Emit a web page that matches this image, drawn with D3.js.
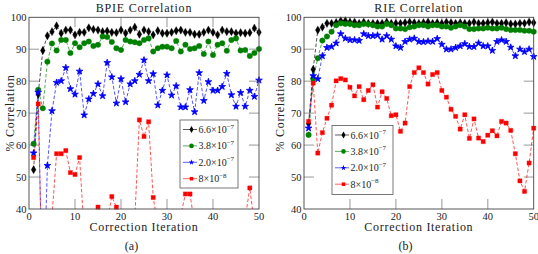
<!DOCTYPE html>
<html>
<head>
<meta charset="utf-8">
<script src="https://cdn.jsdelivr.net/npm/d3@7"></script>
<style>
body { margin: 0; background: #fff; }
svg text { font-family: "Liberation Serif", "DejaVu Serif", serif; fill: #222; }
</style>
</head>
<body>
<svg id="chart" width="538" height="254" font-family="Liberation Serif, DejaVu Serif, serif"></svg>
<script>
// iteration index shared by every series
var iterations = d3.range(1, 51);
var xTicks = [0, 10, 20, 30, 40, 50];
var yTicks = [40, 50, 60, 70, 80, 90, 100];

var legendBase = ["6.6\u00d710", "3.8\u00d710", "2.0\u00d710", "8\u00d710"];
var legendExp = ["\u22127", "\u22127", "\u22127", "\u22128"];

// BPIE panel (values under 40 are off the axis, guessed from the slopes)
var bpieBlack = [52.3, 76, 89.6, 94.2, 95.5, 97.3, 95, 96, 96, 94.5,
  95.3, 95.3, 96.7, 96.2, 96, 95.5, 95.7, 95.3, 95.2, 96,
  95, 96, 96.9, 94.7, 96, 95.5, 94.5, 95.8, 95, 95,
  95.3, 95.8, 96, 95.3, 95.3, 94.7, 94.7, 95.3, 96, 95.3,
  94.5, 96, 95.5, 95.5, 95, 95.2, 95, 95.2, 96.6, 95.3];
var bpieGreen = [60.4, 77.3, 71.5, 86.1, 91.8, 89.6, 92.9, 92.9, 88.8, 91.9,
  90.6, 91.9, 92.4, 91, 91.4, 94, 93.8, 92.3, 90.3, 89.8,
  92.9, 92.4, 92.2, 91.9, 92.9, 93.4, 89.3, 90.3, 90.8, 90.8,
  90.3, 92.6, 89.3, 91.4, 90.1, 90.3, 91, 88.5, 92.4, 88.2,
  91.4, 91.9, 89.5, 92.9, 93.4, 89.6, 89.8, 87.9, 88.8, 90.1];
var bpieBlue = [57.5, 76.5, 5, 53.6, 70.7, 79.6, 80.1, 84.2, 77.6, 75.9,
  83.1, 69.4, 74.4, 76.1, 79.1, 75.4, 85.8, 81.3, 73.1, 80.7,
  73.5, 79.1, 80.1, 82.1, 86.6, 80.1, 82.3, 72.5, 77.1, 81.9,
  75.6, 78.5, 71.9, 71.9, 77.3, 70.4, 82.6, 73.9, 79.8, 77.1,
  77.1, 78.3, 82.4, 75.7, 72.1, 76.4, 72.1, 77.1, 75.2, 80.3];
var bpieRed = [56.1, 72.9, 8, 20, 38, 57.3, 57.3, 58.3, 51.4, 50.8,
  56.1, 32, 25, 33, 40.6, 34, 36, 43.9, 40.6, 35,
  30, 32, 37, 67.9, 62.7, 67.3, 43.6, 35, 30, 28,
  30, 33, 38, 44.7, 44.7, 35, 30, 28, 30, 32,
  30, 28, 30, 32, 30, 28, 37, 46.6, 35, 30];

// RIE panel
var rieBlack = [66.7, 83.7, 96, 96.9, 98.1, 98.1, 98.4, 98.9, 98.9, 98.5,
  98.5, 98.1, 98.5, 98.1, 98.1, 98.1, 98.1, 98.5, 98.1, 98.1,
  98.1, 98.3, 98.5, 98.3, 98.1, 98.3, 98.5, 98.1, 98.3, 98.1,
  98.5, 98.3, 98.1, 98.3, 98.1, 98.1, 98.5, 98.1, 98.1, 98.3,
  98.5, 98.1, 98.1, 98.3, 97.9, 97.9, 98.1, 98.1, 98.5, 98.3];
var rieGreen = [63.2, 80.8, 87.2, 92.7, 94, 95.5, 97.5, 98.1, 97.9, 97.9,
  97.5, 97.5, 97.9, 97.8, 97.5, 97.1, 97.1, 97.9, 97.5, 96.5,
  96.5, 96.3, 96.9, 97.1, 97.5, 97.5, 97.1, 97.5, 97.5, 97.1,
  97.1, 96.7, 97.1, 97.5, 97.1, 96.3, 96.3, 96.5, 96.5, 96.7,
  96.5, 96.5, 96.7, 96.3, 96, 96, 96, 95.8, 95.8, 95.5];
var rieBlue = [65.3, 81.7, 80.7, 87.9, 90.5, 90.8, 91.9, 94.8, 93.4, 92.9,
  92.9, 92.7, 94.8, 94.2, 94.2, 94.4, 93.1, 94.2, 93.1, 91,
  90.5, 92.4, 93.1, 93.4, 92.4, 92.3, 92.5, 92.4, 93.3, 91.5,
  90, 90, 90.5, 91, 91.7, 90.8, 90.8, 91.9, 91, 91,
  89.6, 92.4, 92.9, 92.4, 90.6, 87.9, 90, 89.2, 90, 87.7];
var rieRed = [67.4, 79.4, 57.5, 63.9, 68.4, 72.5, 80.1, 80.8, 80.4, 78.1,
  75.4, 78.3, 74.2, 77.1, 78.9, 71.9, 76.7, 74.6, 69.2, 69.5,
  64.3, 66.9, 78.3, 82.7, 84.2, 82.7, 79.1, 82.1, 82.7, 77.1,
  75, 71.2, 69, 65, 69.5, 62.1, 68.2, 62.2, 61.1, 63.1,
  64.5, 62.9, 67.4, 66.9, 64.6, 57.3, 48.8, 45.5, 54.4, 65.3];

var styles = [
  {color: "#000000", symbol: d3.symbolDiamond, size: 20},
  {color: "#008000", symbol: d3.symbolCircle, size: 24},
  {color: "#0000ff", symbol: d3.symbolStar, size: 14},
  {color: "#ff0000", symbol: d3.symbolSquare, size: 18}
];

var svg = d3.select("#chart");
svg.append("rect").attr("width", 538).attr("height", 254).attr("fill", "#fff");

function drawPanel(id, opts) {
  var x = d3.scaleLinear().domain([0, 50]).range([opts.left, opts.right]);
  var y = d3.scaleLinear().domain([40, 100]).range([209, 17.3]);
  var g = svg.append("g");

  g.append("clipPath").attr("id", "clip" + id)
    .append("rect")
    .attr("x", opts.left).attr("y", 17.3)
    .attr("width", opts.right - opts.left).attr("height", 209 - 17.3);

  // inward ticks on all four sides
  var tk = 10;
  var ticks = g.append("g").attr("stroke", "#b0b0b0").attr("stroke-width", 1.3);
  xTicks.slice(1, -1).forEach(function(t) {
    ticks.append("line").attr("x1", x(t)).attr("x2", x(t)).attr("y1", 209).attr("y2", 209 - tk);
    ticks.append("line").attr("x1", x(t)).attr("x2", x(t)).attr("y1", 17.3).attr("y2", 17.3 + tk);
  });
  yTicks.slice(1, -1).forEach(function(t) {
    ticks.append("line").attr("x1", opts.left).attr("x2", opts.left + tk).attr("y1", y(t)).attr("y2", y(t));
    ticks.append("line").attr("x1", opts.right).attr("x2", opts.right - tk).attr("y1", y(t)).attr("y2", y(t));
  });

  // series
  var line = d3.line()
    .x(function(d, i) { return x(iterations[i]); })
    .y(function(d) { return y(d); });

  opts.series.forEach(function(vals, si) {
    var st = styles[si];
    g.append("path")
      .attr("clip-path", "url(#clip" + id + ")")
      .attr("d", line(vals))
      .attr("fill", "none")
      .attr("stroke", st.color)
      .attr("stroke-opacity", 0.75)
      .attr("stroke-width", 0.9)
      .attr("stroke-dasharray", "3.5,2");
  });
  opts.series.forEach(function(vals, si) {
    var st = styles[si];
    var sym = d3.symbol().type(st.symbol).size(st.size);
    g.append("g").selectAll("path")
      .data(vals.map(function(v, i) { return {x: iterations[i], v: v}; })
        .filter(function(d) { return d.v >= 40; }))
      .enter().append("path")
      .attr("d", sym)
      .attr("fill", st.color)
      .attr("stroke", st.color)
      .attr("stroke-width", si == 2 ? 0.8 : 0.3)
      .attr("transform", function(d) { return "translate(" + x(d.x) + "," + y(d.v) + ")"; });
  });

  // frame
  g.append("rect")
    .attr("x", opts.left).attr("y", 17.3)
    .attr("width", opts.right - opts.left).attr("height", 209 - 17.3)
    .attr("fill", "none").attr("stroke", "#444").attr("stroke-width", 0.9);

  // tick labels
  g.selectAll(".xl").data(xTicks).enter().append("text")
    .attr("x", function(d) { return x(d); })
    .attr("y", 219.5)
    .attr("text-anchor", "middle")
    .attr("font-size", 10.5)
    .text(function(d) { return d; });
  g.selectAll(".yl").data(yTicks).enter().append("text")
    .attr("x", opts.left - 2.5)
    .attr("y", function(d) { return y(d); })
    .attr("dy", "0.35em")
    .attr("text-anchor", "end")
    .attr("font-size", 10.5)
    .text(function(d) { return d; });

  var mid = (opts.left + opts.right) / 2;
  g.append("text").attr("x", mid).attr("y", 12)
    .attr("text-anchor", "middle").attr("font-size", 12).attr("letter-spacing", 0.8)
    .text(opts.title);
  g.append("text").attr("x", mid).attr("y", 231)
    .attr("text-anchor", "middle").attr("font-size", 12).attr("letter-spacing", 0.7)
    .text("Correction Iteration");
  g.append("text")
    .attr("transform", "translate(" + opts.ylabX + ",113) rotate(-90)")
    .attr("text-anchor", "middle").attr("font-size", 12).attr("letter-spacing", 0.7)
    .text("% Correlation");
  g.append("text").attr("x", opts.subX).attr("y", 250)
    .attr("text-anchor", "middle").attr("font-size", 12)
    .text(opts.sub);

  // legend
  var lg = g.append("g").attr("transform", "translate(" + opts.legX + "," + opts.legY + ")");
  lg.append("rect").attr("width", opts.legW).attr("height", opts.legH)
    .attr("fill", "#fff").attr("stroke", "#555").attr("stroke-width", 0.8);
  legendBase.forEach(function(lbl, i) {
    var st = styles[i];
    var ry = 9.5 + i * 16.4;
    lg.append("line").attr("x1", 3).attr("x2", 17).attr("y1", ry).attr("y2", ry)
      .attr("stroke", st.color).attr("stroke-opacity", 0.7).attr("stroke-width", 0.9);
    lg.append("path").attr("d", d3.symbol().type(st.symbol).size(st.size * 0.7))
      .attr("fill", st.color).attr("transform", "translate(11.5," + ry + ")");
    var t = lg.append("text").attr("x", 18.5).attr("y", ry + 3.5).attr("font-size", 10);
    t.append("tspan").text(lbl);
    t.append("tspan").attr("dy", -4.5).attr("font-size", 7).text(legendExp[i]);
  });
}

drawPanel("a", {
  left: 29, right: 259, title: "BPIE Correlation", sub: "(a)", subX: 131.5, ylabX: 13.5,
  legX: 180, legY: 120, legW: 58, legH: 68,
  series: [bpieBlack, bpieGreen, bpieBlue, bpieRed]
});
drawPanel("b", {
  left: 304, right: 533.7, title: "RIE Correlation", sub: "(b)", subX: 405.5, ylabX: 283.5,
  legX: 332, legY: 125.5, legW: 61, legH: 69,
  series: [rieBlack, rieGreen, rieBlue, rieRed]
});
</script>
</body>
</html>
